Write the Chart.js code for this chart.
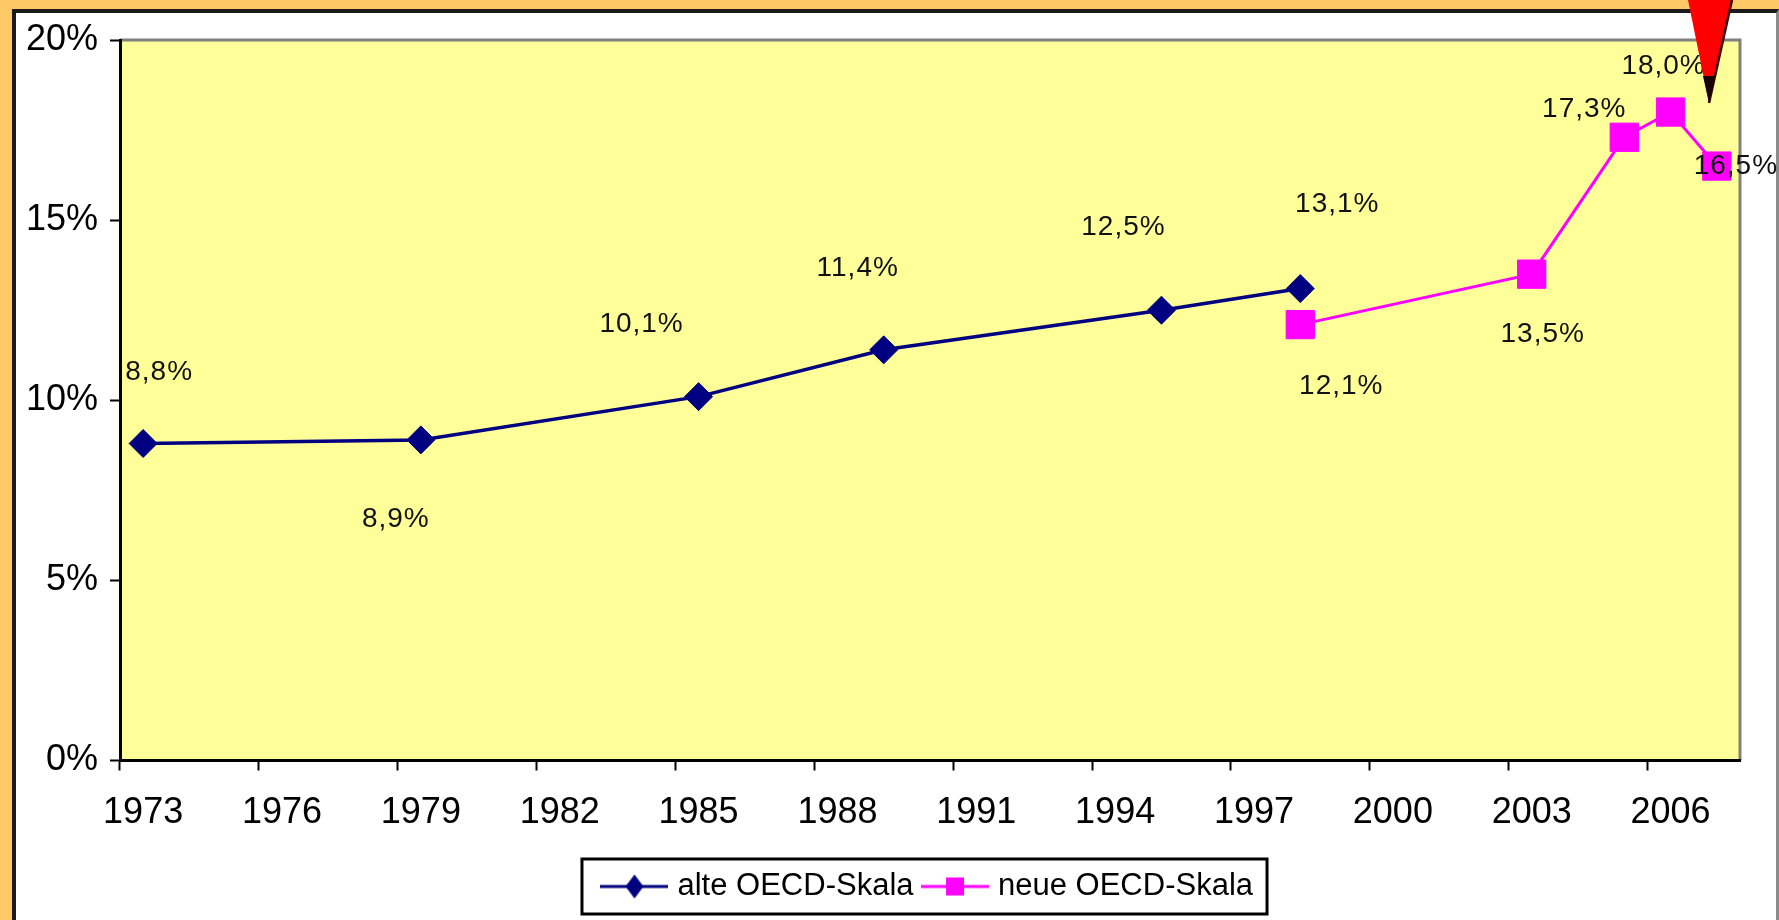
<!DOCTYPE html>
<html>
<head>
<meta charset="utf-8">
<title>Armutsrisikoquote</title>
<script src="https://cdn.jsdelivr.net/npm/chart.js@4.4.1/dist/chart.umd.min.js"></script>
<style>
  html, body { margin: 0; padding: 0; }
  body { width: 1779px; height: 920px; overflow: hidden; background: #ffc966; position: relative; }
  #frame { position: absolute; left: 12px; top: 9px; width: 1767px; height: 930px; box-sizing: border-box;
           background: #fff; border-left: 4px solid #1a1a1a; border-top: 4px solid #1a1a1a; border-right: 3px solid #8a8a8a; }
  #chart { position: absolute; left: 0; top: 0; }
</style>
</head>
<body>
<div id="frame"></div>
<canvas id="chart" width="1779" height="920"></canvas>
<script>
var years = ['1973', '1974', '1975', '1976', '1977', '1978', '1979', '1980', '1981', '1982',
             '1983', '1984', '1985', '1986', '1987', '1988', '1989', '1990', '1991', '1992',
             '1993', '1994', '1995', '1996', '1997', '1998', '1999', '2000', '2001', '2002',
             '2003', '2004', '2005', '2006', '2007'];
var tickYears = ['1973', '1976', '1979', '1982', '1985', '1988', '1991', '1994', '1997', '2000', '2003', '2006'];

var alteYears = ['1973', '1979', '1985', '1989', '1995', '1998'];
var alteValues = [8.8, 8.9, 10.1, 11.4, 12.5, 13.1];
var neueYears = ['1998', '2003', '2005', '2006', '2007'];
var neueValues = [12.1, 13.5, 17.3, 18.0, 16.5];
var yTicks = [0, 5, 10, 15, 20];

// where each value label sits relative to its marker (px)
var alteShift = [[16, -71], [-25, 79], [-57, -72], [-26, -82], [-38, -83], [37, -84]];
var neueShift = [[41, 62], [11, 60], [-40, -28], [-7, -46], [19, 0]];

var FONT = '"Liberation Sans", Arial, sans-serif';
Chart.defaults.font.family = FONT;
Chart.defaults.color = '#000';

function legendIcon(color, shape) {
    var c = document.createElement('canvas');
    c.width = 68;
    c.height = 26;
    var g = c.getContext('2d');
    g.strokeStyle = color;
    g.lineWidth = 3;
    g.beginPath();
    g.moveTo(0, 13);
    g.lineTo(68, 13);
    g.stroke();
    g.fillStyle = color;
    g.beginPath();
    if (shape == 'diamond') {
        g.moveTo(34, 1); g.lineTo(43, 13); g.lineTo(34, 25); g.lineTo(25, 13);
        g.closePath();
    } else {
        g.rect(25, 4, 18, 18);
    }
    g.fill();
    return c;
}
var icons = [legendIcon('#000080', 'diamond'), legendIcon('#ff00ff', 'square')];

var plotBack = {
    id: 'plotBack',
    beforeDraw: (chart) => {
        var a = chart.chartArea, ctx = chart.ctx;
        ctx.save();
        ctx.fillStyle = '#ffff99';
        ctx.fillRect(a.left, a.top, a.right - a.left, a.bottom - a.top);
        ctx.strokeStyle = '#808080';
        ctx.lineWidth = 3;
        ctx.beginPath();
        ctx.moveTo(a.left, a.top);
        ctx.lineTo(a.right, a.top);
        ctx.lineTo(a.right, a.bottom);
        ctx.stroke();
        ctx.restore();
    }
};

var valueLabels = {
    id: 'valueLabels',
    afterDatasetsDraw: (chart) => {
        var ctx = chart.ctx;
        ctx.save();
        ctx.font = '28px ' + FONT;
        ctx.letterSpacing = '1px';
        ctx.fillStyle = '#111';
        ctx.textAlign = 'center';
        ctx.textBaseline = 'middle';
        chart.data.datasets.forEach((ds, d) => {
            var shift = d == 0 ? alteShift : neueShift;
            chart.getDatasetMeta(d).data.forEach((pt, i) => {
                var txt = ds.data[i].y.toFixed(1).replace('.', ',') + '%';
                ctx.fillText(txt, pt.x + shift[i][0], pt.y + shift[i][1]);
            });
        });
        ctx.restore();
    }
};

var extras = {
    id: 'extras',
    afterDraw: (chart) => {
        var ctx = chart.ctx;
        ctx.save();
        // box round the legend
        var boxes = chart.legend.legendHitBoxes;
        if (boxes && boxes.length) {
            var l = Math.min.apply(null, boxes.map(b => b.left)) - 25;
            var r = Math.max.apply(null, boxes.map(b => b.left + b.width)) + 14;
            var t = boxes[0].top - 12;
            var b = boxes[0].top + boxes[0].height + 12;
            ctx.strokeStyle = '#000';
            ctx.lineWidth = 3;
            ctx.strokeRect(l, t, r - l, b - t);
        }
        // red arrow at the top
        ctx.beginPath();
        ctx.moveTo(1688, 0);
        ctx.lineTo(1732, 0);
        ctx.lineTo(1709, 103);
        ctx.closePath();
        ctx.fillStyle = '#ff0000';
        ctx.fill();
        ctx.strokeStyle = '#3a0000';
        ctx.lineWidth = 2.5;
        ctx.beginPath();
        ctx.moveTo(1732, 0);
        ctx.lineTo(1709, 103);
        ctx.stroke();
        ctx.beginPath();
        ctx.moveTo(1703, 76);
        ctx.lineTo(1715, 76);
        ctx.lineTo(1709, 103);
        ctx.closePath();
        ctx.fillStyle = '#1a0000';
        ctx.fill();
        ctx.restore();
    }
};

var ctx1 = document.getElementById('chart').getContext('2d');
var myChart = new Chart(ctx1, {
    type: 'line',
    data: {
        labels: years,
        datasets: [{
            label: 'alte OECD-Skala',
            data: alteYears.map((y, i) => ({ x: y, y: alteValues[i] })),
            borderColor: '#000080',
            backgroundColor: '#000080',
            borderWidth: 3.5,
            pointStyle: 'rectRot',
            pointRadius: 14,
            pointBorderWidth: 1,
            clip: false
        }, {
            label: 'neue OECD-Skala',
            data: neueYears.map((y, i) => ({ x: y, y: neueValues[i] })),
            borderColor: '#ff00ff',
            backgroundColor: '#ff00ff',
            borderWidth: 3,
            pointStyle: 'rect',
            pointRadius: 20,
            pointBorderWidth: 1,
            clip: false
        }]
    },
    options: {
        responsive: false,
        animation: false,
        layout: { padding: { top: 40, right: 39, left: 0, bottom: 8 } },
        scales: {
            x: {
                type: 'category',
                offset: true,
                grid: {
                    offset: true,
                    drawOnChartArea: false,
                    tickLength: 10,
                    tickWidth: 2,
                    tickColor: (c) => tickYears.includes(years[c.index]) ? '#000' : 'rgba(0,0,0,0)'
                },
                border: { color: '#000', width: 3 },
                ticks: {
                    autoSkip: false,
                    maxRotation: 0,
                    padding: 21,
                    font: { size: 36 },
                    callback: (v, i) => tickYears.includes(years[i]) ? years[i] : ''
                },
                afterFit: (s) => { s.height = 96.5; }
            },
            y: {
                min: 0,
                max: 20,
                grid: { drawOnChartArea: false, tickLength: 10, tickWidth: 2, tickColor: '#000' },
                border: { color: '#000', width: 3 },
                afterBuildTicks: (s) => { s.ticks = yTicks.map(v => ({ value: v })); },
                ticks: {
                    padding: 12,
                    font: { size: 36 },
                    callback: (v) => v + '%'
                },
                afterFit: (s) => { s.width = 120; }
            }
        },
        plugins: {
            tooltip: { enabled: false },
            legend: {
                position: 'bottom',
                fullSize: false,
                labels: {
                    usePointStyle: true,
                    pointStyleWidth: 55,
                    padding: 14,
                    font: { size: 31 },
                    color: '#000',
                    generateLabels: (chart) => {
                        var items = Chart.defaults.plugins.legend.labels.generateLabels(chart);
                        items.forEach((it, i) => { it.pointStyle = icons[i]; it.rotation = 0; });
                        return items;
                    }
                }
            }
        }
    },
    plugins: [plotBack, valueLabels, extras]
});
</script>
</body>
</html>
